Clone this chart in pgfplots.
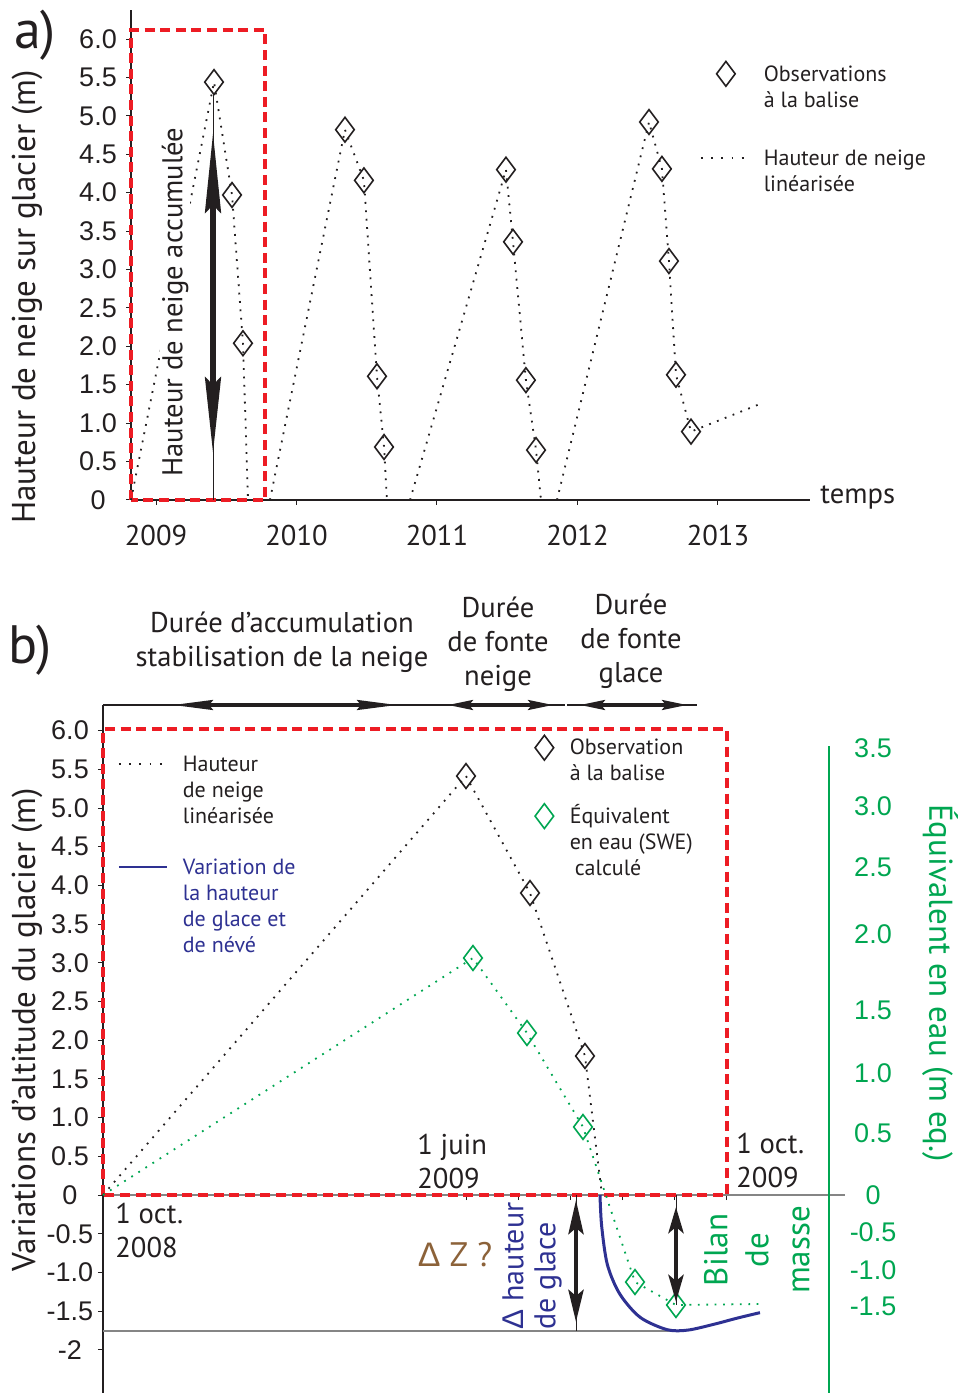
\documentclass[border=0pt]{standalone}
\usepackage{pgfplots}
\pgfplotsset{compat=1.18}
\usepackage{pgfplotstable}
\usetikzlibrary{arrows.meta}
\usepackage{fontspec}
\setmainfont{PT Sans}
\newfontfamily\arialf{Liberation Sans}
\definecolor{rred}{HTML}{ED1C24}
\definecolor{ggreen}{HTML}{00A651}
\definecolor{bblue}{HTML}{2E3192}
\definecolor{bbrown}{HTML}{8C6239}
\definecolor{ink}{HTML}{231F20}
\definecolor{lgray}{HTML}{858585}
\newcommand\tickfont{\arialf\fontsize{13.5}{15}\selectfont}
\newcommand\txtfont{\fontsize{14.3}{17}\selectfont}
\newcommand\legfont{\fontsize{11}{13}\selectfont}
\newcommand\labfont{\fontsize{16.5}{19}\selectfont}
\newcommand\bigfont{\fontsize{27}{30}\selectfont}

% panel a: linearised snow depth (years, m)
\pgfplotstableread{
x y
2008.822 0
2009.413 5.44
2009.541 3.97
2009.619 2.04
2009.655 0
nan nan
2009.811 0
2010.345 4.82
2010.480 4.16
2010.573 1.61
2010.623 0.69
2010.644 0
nan nan
2010.808 0
2011.491 4.30
2011.541 3.36
2011.633 1.56
2011.705 0.65
2011.740 0
nan nan
2011.854 0
2012.509 4.92
2012.601 4.31
2012.651 3.11
2012.701 1.63
2012.808 0.89
2013.313 1.26
}\snowA
\pgfplotstableread{
x y
2009.413 5.44
2009.541 3.97
2009.619 2.04
2010.345 4.82
2010.480 4.16
2010.573 1.61
2010.623 0.69
2011.491 4.30
2011.541 3.36
2011.633 1.56
2011.705 0.65
2012.509 4.92
2012.601 4.31
2012.651 3.11
2012.701 1.63
2012.808 0.89
}\obsA
% panel b: months since 1 oct 2008
\pgfplotstableread{
x y
0 0
6.981 5.413
8.212 3.902
9.269 1.796
9.596 0
}\snowB
\pgfplotstableread{
x y
6.981 5.413
8.212 3.902
9.269 1.796
}\obsB
\pgfplotstableread{
x y
0 0
7.115 3.062
8.154 2.093
9.231 0.879
10.231 -1.124
11.019 -1.421
12.692 -1.408
}\sweB
\pgfplotstableread{
x y
7.115 3.062
8.154 2.093
9.231 0.879
10.231 -1.124
11.019 -1.421
}\sweObsB
\pgfplotstableread{
x y
9.558 0
9.590 -0.40
9.700 -0.90
9.940 -1.28
10.330 -1.58
10.850 -1.74
11.250 -1.745
11.750 -1.67
12.200 -1.59
12.635 -1.52
}\iceB

\begin{document}
\begin{tikzpicture}
\path[use as bounding box] (0,0) rectangle (480pt,696.5pt);

% ================= panel a =================
\begin{axis}[
  at={(65.5pt,446.5pt)}, anchor=south west,
  scale only axis, width=339.5pt, height=245pt,
  xmin=2008.822, xmax=2013.655, ymin=0, ymax=6.378,
  axis x line=bottom, axis y line=left,
  axis line style={-, ink, line width=0.6pt},
  xtick={2009,2010,2011,2012,2013},
  xticklabels={2009,2010,2011,2012,2013},
  xticklabel style={font=\txtfont, text=ink, anchor=center, yshift=-15pt},
  ytick={0,0.5,1,1.5,2,2.5,3,3.5,4,4.5,5,5.5,6},
  yticklabels={0,0.5,1.0,1.5,2.0,2.5,3.0,3.5,4.0,4.5,5.0,5.5,6.0},
  yticklabel style={font=\tickfont, text=ink, anchor=center, xshift=-14pt},
  tick align=outside, major tick length=2.5pt, tick style={ink, line width=0.5pt},
  unbounded coords=jump, clip=false,
  legend style={draw=none, fill=none, at={(0.838,0.895)}, anchor=north west,
    inner sep=0pt, outer sep=0pt, row sep=30.5pt, column sep=6pt,
    font=\legfont, text=ink, nodes={inner sep=0pt}, cells={anchor=base west}},
]
\draw[rred, line width=1.7pt, dash pattern=on 5pt off 2.8pt]
  (axis cs:2008.822,0) rectangle (axis cs:2009.776,6.117);
\addplot[forget plot, ink, line width=0.9pt, dash pattern=on 0.9pt off 3.3pt]
  table[x=x,y=y] {\snowA};
\addplot[forget plot, only marks, mark=diamond, mark size=6.2pt,
  mark options={solid, draw=ink, fill=none, line width=0.8pt}]
  table[x=x,y=y] {\obsA};
\addlegendimage{legend image code/.code={\path (0pt,0pt) (25pt,0pt);
  \draw[ink, line width=0.8pt] plot[mark=diamond, mark size=6.2pt, only marks] coordinates {(12.5pt,3.6pt)};}}
\addlegendentry{\begin{tabular}[t]{@{}l@{}}Observations\\à la balise\end{tabular}}
\addlegendimage{legend image code/.code={\draw[ink, line width=0.9pt, dash pattern=on 0.9pt off 4.2pt] (0pt,3.6pt)--(25pt,3.6pt);}}
\addlegendentry{\begin{tabular}[t]{@{}l@{}}Hauteur de neige\\linéarisée\end{tabular}}
\end{axis}

\node[font=\bigfont, text=ink] at (17.5pt,679pt) {a)};
\node[rotate=90, font=\labfont, text=ink] at (13.5pt,548pt) {Hauteur de neige sur glacier (m)};
\node[rotate=90, font=\txtfont, text=ink, fill=white, inner sep=1pt] at (87.5pt,545.5pt) {Hauteur de neige accumulée};
\node[anchor=west, inner sep=0pt, font=\txtfont, text=ink] at (410pt,448pt) {temps};
\draw[ink, line width=0.5pt] (106.5pt,649pt)--(106.5pt,446.5pt);
\draw[ink, line width=2.6pt, {Stealth[length=40pt,width=8pt,inset=4pt]}-{Stealth[length=38pt,width=8pt,inset=4pt]}]
  (106.5pt,630pt)--(106.5pt,470pt);

% ================= panel b (left axis) =================
\begin{axis}[
  at={(51.5pt,0pt)}, anchor=south west,
  scale only axis, width=371pt, height=344pt,
  xmin=0, xmax=14.27, ymin=-2.558, ymax=6.331,
  axis x line=middle, axis y line=left,
  hide obscured x ticks=false, hide obscured y ticks=false,
  x axis line style={-, lgray, line width=0.8pt},
  y axis line style={-, ink, line width=0.6pt},
  xtick={7,8,9,10,11,12},
  xticklabels={\empty,\empty,\empty,\empty,\empty,\empty},
  ytick={-2,-1.5,-1,-0.5,0,0.5,1,1.5,2,2.5,3,3.5,4,4.5,5,5.5,6},
  yticklabels={-2,-1.5,-1.0,-0.5,0,0.5,1.0,1.5,2.0,2.5,3.0,3.5,4.0,4.5,5.0,5.5,6.0},
  yticklabel style={font=\tickfont, text=ink, anchor=center, xshift=-14pt},
  tick align=outside, major tick length=2.5pt, tick style={ink, line width=0.5pt},
  clip=false,
  legend style={draw=none, fill=none, at={(0.0202,0.9305)}, anchor=north west,
    inner sep=0pt, outer sep=0pt, row sep=41pt, column sep=6.5pt,
    font=\legfont, text=ink, nodes={inner sep=0pt}, cells={anchor=base west}},
]
\addplot[forget plot, lgray, line width=0.8pt] coordinates {(0,-1.757) (11.0,-1.757)};
\draw[rred, line width=1.7pt, dash pattern=on 5pt off 2.8pt]
  (axis cs:0,0) rectangle (axis cs:12,6.02);
\addplot[forget plot, ink, line width=0.9pt, dash pattern=on 0.9pt off 3.3pt]
  table[x=x,y=y] {\snowB};
\addplot[forget plot, ggreen, line width=0.9pt, dash pattern=on 0.9pt off 3.3pt]
  table[x=x,y=y] {\sweB};
\addplot[forget plot, bblue, line width=1.5pt, smooth, tension=0.5]
  table[x=x,y=y] {\iceB};
\addplot[forget plot, only marks, mark=diamond, mark size=6.2pt,
  mark options={solid, draw=ink, fill=none, line width=0.8pt}]
  table[x=x,y=y] {\obsB};
\addplot[forget plot, only marks, mark=diamond, mark size=6.2pt,
  mark options={solid, draw=ggreen, fill=none, line width=0.8pt}]
  table[x=x,y=y] {\sweObsB};
\addlegendimage{legend image code/.code={\draw[ink, line width=0.9pt, dash pattern=on 0.9pt off 4.2pt] (0pt,3.6pt)--(25pt,3.6pt);}}
\addlegendentry{\begin{tabular}[t]{@{}l@{}}Hauteur\\de neige\\linéarisée\end{tabular}}
\addlegendimage{legend image code/.code={\draw[bblue, line width=1pt] (0pt,3.6pt)--(24pt,3.6pt);}}
\addlegendentry[text=bblue]{\begin{tabular}[t]{@{}l@{}}Variation de\\la hauteur\\de glace et\\de névé\end{tabular}}
\end{axis}

% ================= panel b (right axis, SWE) =================
\begin{axis}[
  at={(51.5pt,0pt)}, anchor=south west,
  scale only axis, width=363pt, height=323.5pt,
  xmin=0, xmax=13.96, ymin=-2.558, ymax=5.80,
  axis x line=none, axis y line=right,
  y axis line style={-, ggreen, line width=0.7pt},
  ytick={5.775,5.026,4.238,3.372,2.390,1.576,0.801,0,-0.478,-0.969,-1.434},
  yticklabels={3.5,3.0,2.5,2.0,1.5,1.0,0.5,0,-0.5,-1.0,-1.5},
  yticklabel style={font=\tickfont, text=ggreen, anchor=center, xshift=22pt},
  major tick length=0pt,
  clip=false,
  legend style={draw=none, fill=none, at={(0.5895,1.0165)}, anchor=north west,
    inner sep=0pt, outer sep=0pt, row sep=21.8pt, column sep=6pt,
    font=\legfont, text=ink, nodes={inner sep=0pt}, cells={anchor=base west}},
]
\addlegendimage{legend image code/.code={\path (0pt,0pt) (13pt,0pt);
  \draw[ink, line width=0.8pt] plot[mark=diamond, mark size=6.2pt, only marks] coordinates {(6.5pt,3.6pt)};}}
\addlegendentry{\begin{tabular}[t]{@{}l@{}}Observation\\à la balise\end{tabular}}
\addlegendimage{legend image code/.code={\path (0pt,0pt) (13pt,0pt);
  \draw[ggreen, line width=0.8pt] plot[mark=diamond, mark size=6.2pt, only marks] coordinates {(6.5pt,3.6pt)};}}
\addlegendentry{\begin{tabular}[t]{@{}l@{}}Équivalent\\en eau (SWE)\\\hspace{2.5pt}calculé\end{tabular}}
\end{axis}

% ---- panel b annotations ----
\node[font=\bigfont, text=ink] at (15pt,371.5pt) {b)};
\node[font=\txtfont, text=ink, align=center] at (141pt,375.5pt) {Durée d'accumulation\\stabilisation de la neige};
\node[font=\txtfont, text=ink, align=center] at (249pt,374.5pt) {Durée\\de fonte\\neige};
\node[font=\txtfont, text=ink, align=center] at (315.5pt,376pt) {Durée\\de fonte\\glace};
\node[rotate=90, font=\labfont, text=ink] at (13.5pt,181.5pt) {Variations d'altitude du glacier (m)};
\node[rotate=-90, font=\labfont, text=ggreen] at (470pt,205pt) {Équivalent en eau (m eq.)};
\node[anchor=west, inner sep=0pt, font=\txtfont, text=ink, align=left] at (208.5pt,115.75pt) {1 juin\\2009};
\node[anchor=west, inner sep=0pt, font=\txtfont, text=ink, align=left] at (368pt,116.5pt) {1 oct.\\2009};
\node[anchor=west, inner sep=0pt, font=\txtfont, text=ink, align=left] at (57.5pt,81.5pt) {1 oct.\\2008};
\node[font=\fontsize{17}{20}\selectfont, text=bbrown] at (227.5pt,69pt) {{\arialf Δ} Z ?};
\node[rotate=90, font=\fontsize{15}{16}\selectfont, text=bblue, align=left] at (266pt,63.5pt) {{\arialf Δ} hauteur\\de glace};
\node[rotate=90, font=\fontsize{16.5}{20.5}\selectfont, text=ggreen, align=center] at (378.5pt,71.5pt) {Bilan\\de\\masse};

% top duration arrows
\draw[ink, line width=0.6pt] (51.5pt,344pt)--(220pt,344pt);
\draw[ink, line width=1.6pt, {Stealth[length=20pt,width=5pt,inset=2pt]}-{Stealth[length=20pt,width=5pt,inset=2pt]}]
  (86.5pt,344pt)--(198.5pt,344pt);
\draw[ink, line width=0.6pt] (220pt,344pt)--(282.5pt,344pt);
\draw[ink, line width=1.6pt, {Stealth[length=12.5pt,width=5pt,inset=2pt]}-{Stealth[length=12.5pt,width=5pt,inset=2pt]}]
  (224pt,344pt)--(276.5pt,344pt);
\draw[ink, line width=0.6pt] (283.5pt,344pt)--(348.5pt,344pt);
\draw[ink, line width=1.6pt, {Stealth[length=12.5pt,width=5pt,inset=2pt]}-{Stealth[length=12.5pt,width=5pt,inset=2pt]}]
  (290pt,344pt)--(343.5pt,344pt);

% vertical arrows in panel b
\draw[ink, line width=0.5pt] (288pt,99pt)--(288pt,31pt);
\draw[ink, line width=2.4pt, {Stealth[length=17pt,width=7.5pt,inset=3pt]}-{Stealth[length=16pt,width=7.5pt,inset=3pt]}]
  (288pt,96.5pt)--(288pt,35.5pt);
\draw[ink, line width=0.5pt] (338pt,99pt)--(338pt,44pt);
\draw[ink, line width=2.4pt, {Stealth[length=13pt,width=7.5pt,inset=3pt]}-{Stealth[length=13.5pt,width=7.5pt,inset=3pt]}]
  (338pt,93pt)--(338pt,45.5pt);
\end{tikzpicture}
\end{document}
